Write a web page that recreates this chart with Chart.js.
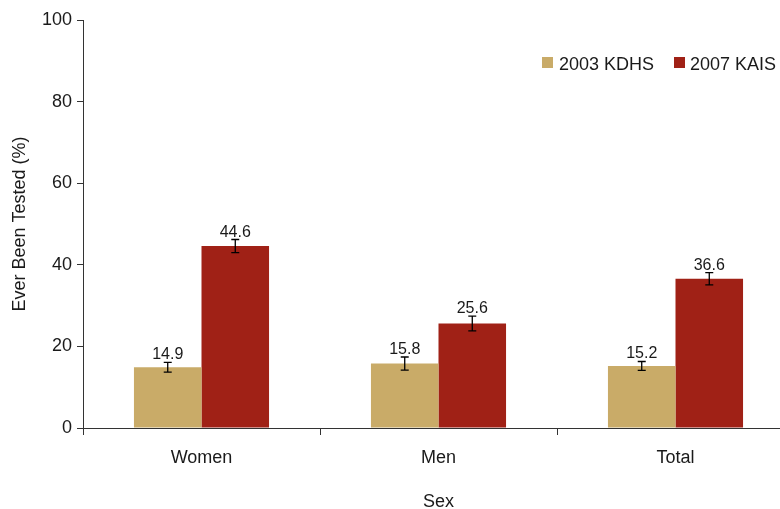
<!DOCTYPE html>
<html>
<head>
<meta charset="utf-8">
<script src="https://cdn.jsdelivr.net/npm/chart.js@4/dist/chart.umd.min.js"></script>
<style>
  html, body { margin: 0; padding: 0; background: #fff; overflow: hidden; }
  #wrap { width: 794px; height: 509px; }
</style>
</head>
<body>
<div id="wrap"><canvas id="testChart"></canvas></div>
<script>
const categories = ["Women", "Men", "Total"];
const seriesNames = ["2003 KDHS", "2007 KAIS"];
const kdhs2003 = [14.9, 15.8, 15.2];
const kais2007 = [44.6, 25.6, 36.6];
// confidence intervals (lower / upper)
const kdhsLow = [13.7, 14.2, 14.1];
const kdhsHigh = [16.1, 17.4, 16.3];
const kaisLow = [43.0, 23.8, 35.1];
const kaisHigh = [46.2, 27.4, 38.1];
const yTicks = [0, 20, 40, 60, 80, 100];

const FONT = "'Liberation Sans', Arial, sans-serif";
const TEXT = "#1a1a1a";
const colors = ["#C9AB68", "#A02116"];

// error bars + value labels above each bar
const barExtras = {
  id: "barExtras",
  afterDatasetsDraw(chart) {
    const ctx = chart.ctx;
    const y = chart.scales.y;
    const lows = [kdhsLow, kaisLow];
    const highs = [kdhsHigh, kaisHigh];
    chart.data.datasets.forEach((ds, di) => {
      const meta = chart.getDatasetMeta(di);
      meta.data.forEach((bar, i) => {
        const x = bar.x;
        const yl = y.getPixelForValue(lows[di][i]);
        const yh = y.getPixelForValue(highs[di][i]);
        ctx.save();
        ctx.strokeStyle = "#000";
        ctx.lineWidth = 1.3;
        ctx.beginPath();
        ctx.moveTo(x, yl); ctx.lineTo(x, yh);
        ctx.moveTo(x - 4, yl); ctx.lineTo(x + 4, yl);
        ctx.moveTo(x - 4, yh); ctx.lineTo(x + 4, yh);
        ctx.stroke();
        ctx.fillStyle = TEXT;
        ctx.font = "16px " + FONT;
        ctx.textAlign = "center";
        ctx.textBaseline = "alphabetic";
        ctx.fillText(ds.data[i].toFixed(1), x, yh - 3);
        ctx.restore();
      });
    });
  }
};

// legend in the upper right of the plot
const cornerLegend = {
  id: "cornerLegend",
  afterDraw(chart) {
    const ctx = chart.ctx;
    const items = [[542, 559], [674, 690]];
    ctx.save();
    ctx.font = "18px " + FONT;
    ctx.textBaseline = "alphabetic";
    ctx.textAlign = "left";
    seriesNames.forEach((name, i) => {
      ctx.fillStyle = colors[i];
      ctx.fillRect(items[i][0], 57, 11, 11);
      ctx.fillStyle = TEXT;
      ctx.fillText(name, items[i][1], 70);
    });
    ctx.restore();
  }
};

new Chart(document.getElementById("testChart"), {
  type: "bar",
  data: {
    labels: categories,
    datasets: [
      { label: seriesNames[0], data: kdhs2003, backgroundColor: colors[0] },
      { label: seriesNames[1], data: kais2007, backgroundColor: colors[1] }
    ]
  },
  options: {
    responsive: true,
    maintainAspectRatio: false,
    animation: false,
    layout: { padding: { top: 20, right: 0, left: 0, bottom: 0 } },
    datasets: { bar: { categoryPercentage: 0.57, barPercentage: 1.0 } },
    plugins: { legend: { display: false }, tooltip: { enabled: false } },
    scales: {
      x: {
        grid: { offset: true, drawOnChartArea: false, color: "#333", tickLength: 7 },
        border: { color: "#333", width: 1 },
        ticks: { color: TEXT, font: { family: FONT, size: 18 }, padding: 12 },
        title: { display: true, text: "Sex", color: TEXT, font: { family: FONT, size: 18, lineHeight: 0.8 }, padding: 0 },
        afterFit(scale) { scale.height = 81; }
      },
      y: {
        min: 0,
        max: 100,
        afterBuildTicks(scale) { scale.ticks = yTicks.map(v => ({ value: v })); },
        grid: { drawOnChartArea: false, color: "#333", tickLength: 6 },
        border: { color: "#333", width: 1 },
        ticks: { color: TEXT, font: { family: FONT, size: 18 }, padding: 5 },
        title: { display: true, text: "Ever Been Tested (%)", color: TEXT, font: { family: FONT, size: 18 }, padding: { top: 9, bottom: 0 } },
        afterFit(scale) { scale.width = 83; }
      }
    }
  },
  plugins: [barExtras, cornerLegend]
});
</script>
</body>
</html>
